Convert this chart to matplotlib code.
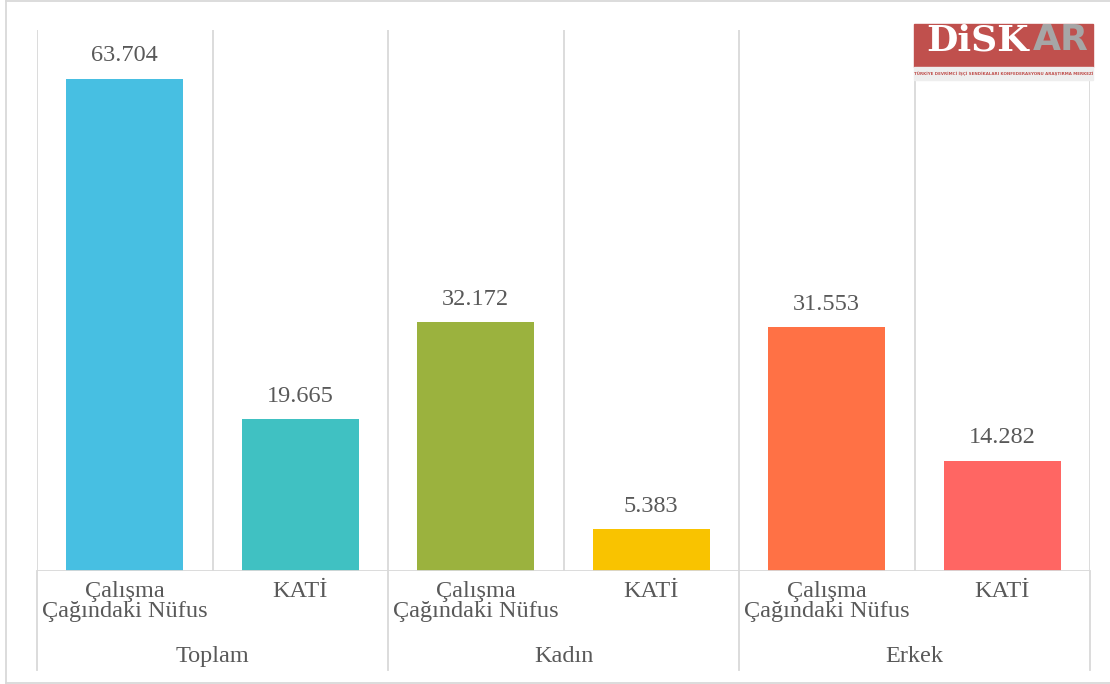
import matplotlib.pyplot as plt
from matplotlib.patches import Rectangle
from matplotlib.lines import Line2D
import matplotlib.transforms as mtransforms

plt.rcParams['font.family'] = ['Liberation Serif', 'DejaVu Serif']

# data
categories = ['Çalışma\nÇağındaki Nüfus', 'KATİ'] * 3
groups = ['Toplam', 'Kadın', 'Erkek']
values = [63.704, 19.665, 32.172, 5.383, 31.553, 14.282]
value_labels = ['63.704', '19.665', '32.172', '5.383', '31.553', '14.282']
colors = ['#47BFE2', '#40C1C2', '#9BB23E', '#F9C300', '#FF7145', '#FF6663']

fig = plt.figure(figsize=(11.1, 6.84), dpi=100)
ax = fig.add_axes([37 / 1110, 113 / 684, 1053 / 1110, 541 / 684])

x = list(range(len(values)))
ax.bar(x, values, width=0.667, color=colors, zorder=3)
ax.set_xlim(-0.5, 5.5)
ax.set_ylim(0, 70)

grid_col = '#D9D9D9'
text_col = '#595959'

# vertical lines between categories
for i in range(7):
    ax.axvline(i - 0.5, color=grid_col, lw=1.3, zorder=1)
ax.axhline(0, color=grid_col, lw=1.3, zorder=4)

# group separator lines below the axis
trans = mtransforms.blended_transform_factory(ax.transData, ax.transAxes)
for xg in [-0.5, 1.5, 3.5, 5.5]:
    ax.plot([xg, xg], [0, -0.183], color=grid_col, lw=1.3, transform=trans, clip_on=False)

for s in ax.spines.values():
    s.set_visible(False)
ax.set_yticks([])
ax.set_xticks(x)
ax.set_xticklabels(categories, fontsize=17.5, color=text_col, linespacing=0.95, va='top')
ax.tick_params(axis='x', length=0, pad=7)

for xi, v, lab in zip(x, values, value_labels):
    ax.annotate(lab, (xi, v), xytext=(0, 9), textcoords='offset points',
                ha='center', va='bottom', fontsize=17.5, color=text_col)

for gi, g in enumerate(groups):
    ax.text(gi * 2 + 0.5, -0.158, g, transform=trans, ha='center', va='center',
            fontsize=17.5, color=text_col)

# logo
lx, ly, lw, lh = 914 / 1110, 1 - 80 / 684, 179 / 1110, 56 / 684
fig.patches.append(Rectangle((lx, ly + 0.019), lw, lh - 0.019, transform=fig.transFigure,
                             color='#C0504D', zorder=5))
fig.patches.append(Rectangle((lx, ly), lw, 0.019, transform=fig.transFigure,
                             color='#EEEEEE', zorder=5))
fig.text(lx + 0.011, ly + 0.058, 'DiSK', color='white', fontsize=26, fontweight='bold',
         family='DejaVu Serif', va='center', ha='left', zorder=6)
fig.text(lx + 0.107, ly + 0.058, 'AR', color='#A6A6A6', fontsize=26, fontweight='bold',
         family='DejaVu Sans', va='center', ha='left', zorder=6)
fig.text(lx + lw / 2, ly + 0.0095, 'TÜRKİYE DEVRİMCİ İŞÇİ SENDİKALARI KONFEDERASYONU ARAŞTIRMA MERKEZİ',
         color='#C0504D', fontsize=2.9, fontweight='bold', family='DejaVu Sans Condensed',
         ha='center', va='center', zorder=6)

# figure border (left, top, bottom)
for xs, ys in [([6, 6], [1, 683]), ([6, 1110], [683, 683]), ([6, 1110], [1, 1])]:
    fig.lines.append(Line2D([v / 1110 for v in xs], [1 - v / 684 for v in ys],
                            transform=fig.transFigure, color=grid_col, lw=1.3))

fig.savefig('out.png', dpi=100)
